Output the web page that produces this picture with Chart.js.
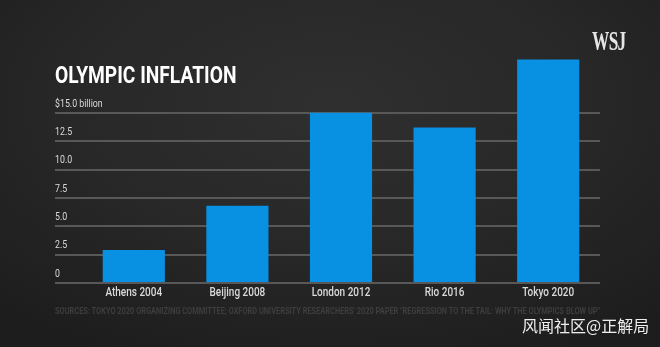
<!DOCTYPE html>
<html>
<head>
<meta charset="utf-8">
<title>Olympic Inflation</title>
<script src="https://cdn.jsdelivr.net/npm/chart.js@4"></script>
<style>
  html, body { margin: 0; padding: 0; }
  body {
    width: 660px; height: 347px; overflow: hidden; position: relative;
    background: radial-gradient(ellipse 75% 80% at 50% 30%, #2f2f2f 0%, #282828 50%, #1d1d1d 100%);
    font-family: Roboto, sans-serif;
  }
  #chart { position: absolute; left: 0; top: 0; }
  .narrow { position: absolute; white-space: nowrap; transform-origin: left top; }
  .title {
    left: 55px; top: 61px; color: #fff;
    font-size: 24px; font-weight: bold; transform: scaleX(0.8);
  }
  .logo {
    left: 592px; top: 26px; color: #e6e6e6;
    font-family: 'Liberation Serif', serif; font-weight: bold; font-size: 27px;
    transform: scaleX(0.64); letter-spacing: -1px;
  }
  .source {
    left: 55px; top: 305px; color: #3e3e3e;
    font-size: 9.5px; font-weight: bold; transform: scaleX(0.78);
  }
  .credit {
    position: absolute; left: 522px; top: 313px; color: #eeeeee;
    font-family: 'Noto Sans CJK SC', sans-serif; font-size: 16px;
  }
</style>
</head>
<body>
<canvas id="chart" width="660" height="347"></canvas>
<div class="narrow title">OLYMPIC INFLATION</div>
<div class="narrow logo">WSJ</div>
<div class="narrow source">SOURCES: TOKYO 2020 ORGANIZING COMMITTEE; OXFORD UNIVERSITY RESEARCHERS' 2020 PAPER "REGRESSION TO THE TAIL: WHY THE OLYMPICS BLOW UP"</div>
<div class="credit">风闻社区@正解局</div>

<script>
// Cost of each Games, billions of dollars
const games = ['Athens 2004', 'Beijing 2008', 'London 2012', 'Rio 2016', 'Tokyo 2020'];
const costs = [2.9, 6.8, 15.0, 13.7, 19.7];

// Gridline values and their labels
const yTicks = [0, 2.5, 5, 7.5, 10, 12.5, 15];
const yTickLabels = ['0', '2.5', '5.0', '7.5', '10.0', '12.5', '$15.0 billion'];

// Condensed text: Roboto squeezed horizontally
function narrowText(ctx, text, x, y, squeeze) {
    ctx.save();
    ctx.translate(x, y);
    ctx.scale(squeeze, 1);
    ctx.fillText(text, 0, 0);
    ctx.restore();
}

// Tick labels drawn by hand so they can be narrowed and sit above the gridlines
const axisLabels = {
    id: 'axisLabels',
    afterDraw(chart) {
        const { ctx, scales: { x, y } } = chart;
        ctx.save();
        ctx.fillStyle = '#dadada';
        ctx.textBaseline = 'middle';

        ctx.font = '11px Roboto';
        ctx.textAlign = 'left';
        yTicks.forEach((v, i) => {
            narrowText(ctx, yTickLabels[i], y.left, y.getPixelForValue(v) - 9, 0.8);
        });

        ctx.font = '500 12.5px Roboto';
        ctx.textAlign = 'center';
        games.forEach((g, i) => {
            narrowText(ctx, g, x.getPixelForValue(i), x.top + 10, 0.8);
        });
        ctx.restore();
    }
};

function initChart() {
    const ctx = document.getElementById('chart');
    new Chart(ctx, {
        type: 'bar',
        data: {
            labels: games,
            datasets: [{
                data: costs,
                backgroundColor: '#0890e3',
                barPercentage: 0.6,
                categoryPercentage: 1.0
            }]
        },
        options: {
            responsive: false,
            animation: false,
            layout: { padding: { left: 55, right: 60, top: 56, bottom: 0 } },
            plugins: {
                legend: { display: false },
                tooltip: { enabled: false }
            },
            scales: {
                x: {
                    grid: { display: false },
                    border: { display: false },
                    ticks: { display: false },
                    afterFit: scale => { scale.height = 64; }
                },
                y: {
                    min: 0,
                    max: 20,
                    border: { display: false },
                    grid: { color: '#585858', lineWidth: 2, tickLength: 27 },
                    ticks: { display: false },
                    afterBuildTicks: scale => {
                        scale.ticks = yTicks.map(v => ({ value: v }));
                    },
                    afterFit: scale => { scale.width = 27; }
                }
            }
        },
        plugins: [axisLabels]
    });
}

initChart();
</script>
</body>
</html>
